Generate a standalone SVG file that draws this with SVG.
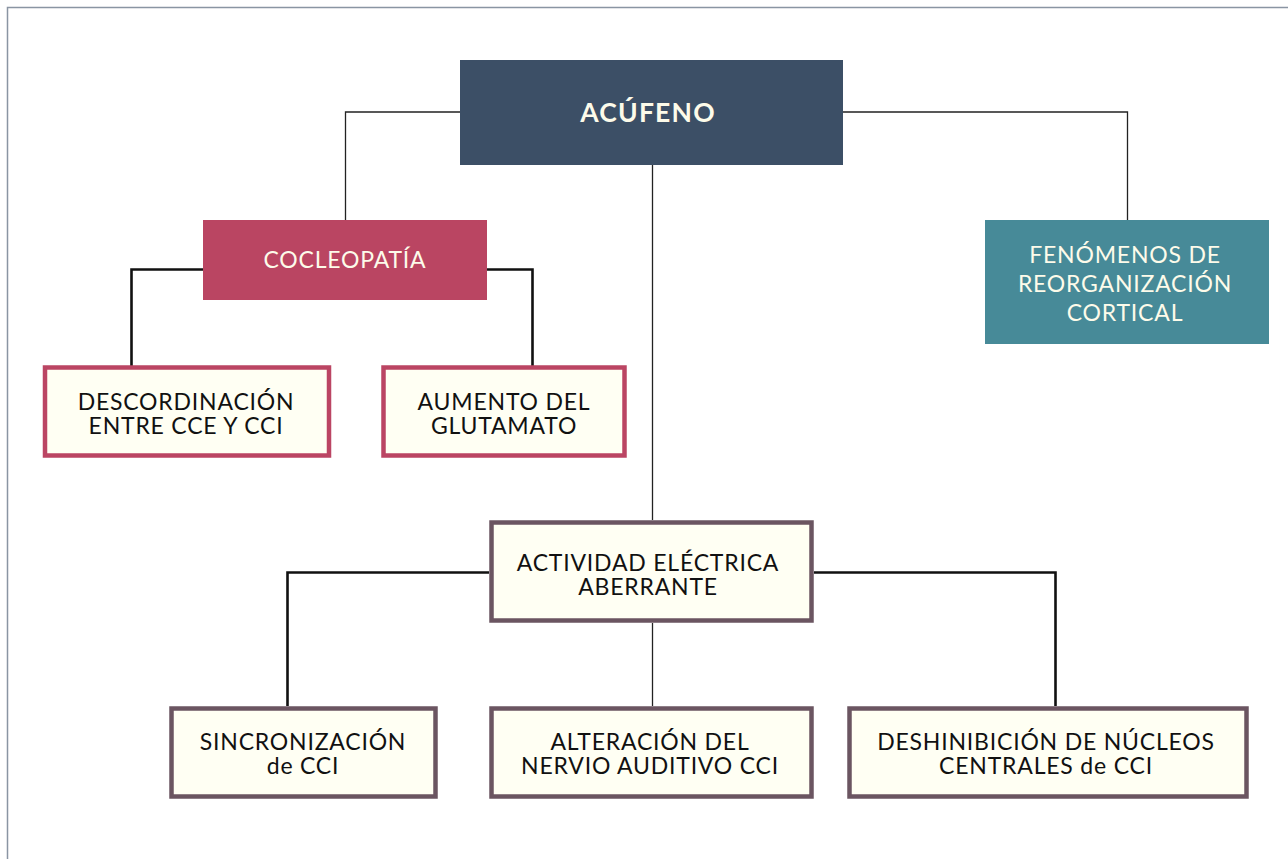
<svg xmlns="http://www.w3.org/2000/svg" width="1288" height="859" viewBox="0 0 1288 859">
<style>
.t{font-family:Lato,"Open Sans","Liberation Sans",sans-serif;text-anchor:middle;letter-spacing:0.8px}
.w{fill:#fdfbea}
.k{fill:#111}
.thin{stroke:#222;stroke-width:1.3;fill:none}
.thick{stroke:#111;stroke-width:2.6;fill:none}
.pink{fill:#fffff3;stroke:#bb4563;stroke-width:4.5}
.plum{fill:#fffff3;stroke:#6b5561;stroke-width:4.5}
</style>
<rect width="1288" height="859" fill="#fff"/>
<path d="M7.5,1000 V7.5 H1300" fill="none" stroke="#8a95a3" stroke-width="1.5"/>
<g id="connectors">
<path class="thin" d="M460,112 H345.5 V220"/>
<path class="thin" d="M843,112 H1127.5 V220"/>
<path class="thin" d="M652.5,165 V520"/>
<path class="thin" d="M652.5,623 V706"/>
<path class="thick" d="M203,269.5 H131.5 V366"/>
<path class="thick" d="M487,269.5 H532.5 V366"/>
<path class="thick" d="M489,572.5 H287.5 V706"/>
<path class="thick" d="M814,572.5 H1055.5 V706"/>
</g>
<g id="acufeno">
<rect x="460" y="60" width="383" height="105" fill="#3c4f66"/>
<text class="t w" x="648" y="122" font-size="26.5" font-weight="bold" style="letter-spacing:1.2px">ACÚFENO</text>
</g>
<g id="cocleopatia">
<rect x="203" y="220" width="284" height="80" fill="#ba4562"/>
<text class="t w" x="345" y="268" font-size="23">COCLEOPATÍA</text>
</g>
<g id="fenomenos">
<rect x="985" y="220" width="284" height="124" fill="#478a98"/>
<text class="t w" font-size="23"><tspan x="1125" y="263">FENÓMENOS DE</tspan><tspan x="1125" y="292">REORGANIZACIÓN</tspan><tspan x="1125" y="321">CORTICAL</tspan></text>
</g>
<g id="descordinacion">
<rect class="pink" x="45" y="367.5" width="284" height="88"/>
<text class="t k" font-size="23"><tspan x="186" y="410">DESCORDINACIÓN</tspan><tspan x="186" y="434">ENTRE CCE Y CCI</tspan></text>
</g>
<g id="aumento">
<rect class="pink" x="383.5" y="367.5" width="241" height="88"/>
<text class="t k" font-size="23"><tspan x="504" y="410">AUMENTO DEL</tspan><tspan x="504" y="434">GLUTAMATO</tspan></text>
</g>
<g id="actividad">
<rect class="plum" x="491.5" y="522.5" width="320" height="98"/>
<text class="t k" font-size="23"><tspan x="648" y="571">ACTIVIDAD ELÉCTRICA</tspan><tspan x="648" y="595">ABERRANTE</tspan></text>
</g>
<g id="sincronizacion">
<rect class="plum" x="171.5" y="708.5" width="264" height="88"/>
<text class="t k" font-size="23"><tspan x="303" y="750">SINCRONIZACIÓN</tspan><tspan x="303" y="774">de CCI</tspan></text>
</g>
<g id="alteracion">
<rect class="plum" x="491.5" y="708.5" width="320" height="88"/>
<text class="t k" font-size="23"><tspan x="650" y="750">ALTERACIÓN DEL</tspan><tspan x="650" y="774">NERVIO AUDITIVO CCI</tspan></text>
</g>
<g id="deshinibicion">
<rect class="plum" x="849.5" y="708.5" width="397" height="88"/>
<text class="t k" font-size="23"><tspan x="1046" y="750">DESHINIBICIÓN DE NÚCLEOS</tspan><tspan x="1046" y="774">CENTRALES de CCI</tspan></text>
</g>
</svg>
